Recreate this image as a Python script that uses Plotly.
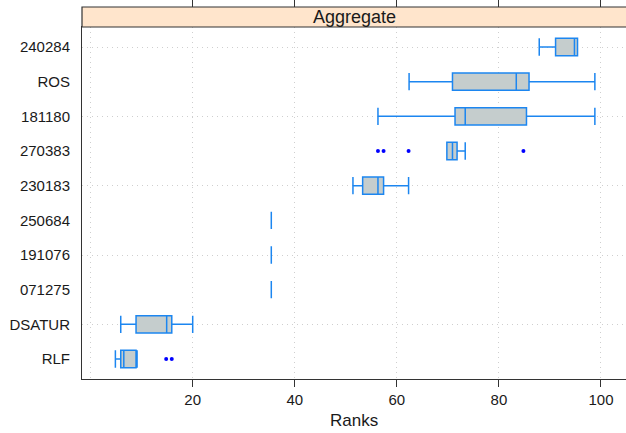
import plotly.graph_objects as go

# Categories (bottom to top)
categories = ["RLF", "DSATUR", "071275", "191076", "250684",
              "230183", "270383", "181180", "ROS", "240284"]
lower_whisker = [4.85, 5.9, 35.4, 35.4, 35.4, 51.4, 69.8, 56.3, 62.4, 87.9]
q1_vals       = [5.9, 8.9, 35.4, 35.4, 35.4, 53.3, 69.8, 71.4, 70.9, 91.1]
median_vals   = [6.5, 14.9, 35.4, 35.4, 35.4, 56.3, 70.9, 73.4, 83.4, 94.8]
q3_vals       = [8.9, 15.9, 35.4, 35.4, 35.4, 57.4, 71.8, 85.4, 85.9, 95.4]
upper_whisker = [9.1, 20.0, 35.4, 35.4, 35.4, 62.3, 73.4, 98.8, 98.8, 95.4]
outlier_cat = ["RLF", "RLF", "270383", "270383", "270383", "270383"]
outlier_val = [14.8, 15.9, 56.3, 57.4, 62.3, 84.8]
x_ticks = [20, 40, 60, 80, 100]
grid_cats = ["DSATUR", "191076", "230183", "181180", "240284"]

ypos = list(range(len(categories)))
cat_idx = {c: i for i, c in enumerate(categories)}

BOX_LINE = "rgb(28,134,240)"
BOX_FILL = "#C5CDCD"
AXIS_COL = "#333333"
GRID_COL = "#CFCFCF"
FONT = "Liberation Sans, Arial, sans-serif"

fig = go.Figure()
fig.add_trace(go.Box(
    orientation="h",
    y=ypos,
    q1=q1_vals, median=median_vals, q3=q3_vals,
    lowerfence=lower_whisker, upperfence=upper_whisker,
    width=0.5, whiskerwidth=1,
    fillcolor=BOX_FILL,
    line=dict(color=BOX_LINE, width=1.5),
    showlegend=False, hoverinfo="skip",
))
fig.add_trace(go.Scatter(
    x=outlier_val, y=[cat_idx[c] for c in outlier_cat],
    mode="markers", marker=dict(color="#0000FF", size=4),
    showlegend=False, hoverinfo="skip",
))
# invisible trace for top tick axis
fig.add_trace(go.Scatter(x=[x_ticks[0]], y=[0], xaxis="x2", mode="markers",
                         marker=dict(opacity=0), showlegend=False, hoverinfo="skip"))

xr = [-1.69, 104.9]
dom_top = 352 / 372

fig.update_layout(
    width=626, height=433,
    margin=dict(l=82, r=0, t=7, b=54),
    paper_bgcolor="white", plot_bgcolor="white",
    font=dict(family=FONT, color="#1a1a1a", size=15),
    xaxis=dict(
        range=xr, tickmode="array", tickvals=x_ticks,
        ticks="outside", ticklen=7, tickcolor=AXIS_COL, tickwidth=1,
        showline=True, linecolor=AXIS_COL, linewidth=1, mirror=True,
        showgrid=False, zeroline=False,
        minor=dict(tickmode="linear", tick0=0, dtick=20, showgrid=True,
                   gridcolor=GRID_COL, griddash="1px,4px", gridwidth=1, ticks=""),
        tickfont=dict(size=15),
    ),
    xaxis2=dict(
        range=xr, overlaying="x", anchor="free", position=1, side="top",
        tickmode="array", tickvals=x_ticks, ticks="outside", ticklen=7,
        tickcolor=AXIS_COL, showticklabels=False, showgrid=False,
        zeroline=False, showline=False,
    ),
    yaxis=dict(
        domain=[0, dom_top], range=[-0.577, len(categories) - 1 + 0.577],
        tickmode="array", tickvals=ypos, ticktext=categories,
        ticks="outside", ticklen=8, tickcolor="rgba(0,0,0,0)",
        showline=True, linecolor=AXIS_COL, linewidth=1,
        showgrid=False, zeroline=False,
        minor=dict(tickmode="array", tickvals=[cat_idx[c] for c in grid_cats],
                   showgrid=True, gridcolor=GRID_COL, griddash="1px,4px",
                   gridwidth=1, ticks=""),
        tickfont=dict(size=15),
    ),
    shapes=[dict(type="rect", xref="paper", yref="paper",
                 x0=0, x1=1.02, y0=dom_top, y1=1,
                 fillcolor="#FFE5CC", line=dict(color=AXIS_COL, width=1.2),
                 layer="above")],
    annotations=[
        dict(text="Aggregate", xref="paper", yref="paper",
             x=0.5, y=(dom_top + 1) / 2, xanchor="center", yanchor="middle",
             showarrow=False, font=dict(size=18, family=FONT, color="#1a1a1a")),
        dict(text="Ranks", xref="paper", yref="paper",
             x=0.5, y=-(421 - 379) / 372, xanchor="center", yanchor="middle",
             showarrow=False, font=dict(size=17, family=FONT, color="#1a1a1a")),
    ],
)

fig.write_html("out.html")
